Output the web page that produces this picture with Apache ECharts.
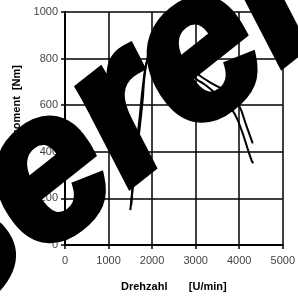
<!DOCTYPE html>
<html>
<head>
<meta charset="utf-8">
<script src="https://cdn.jsdelivr.net/npm/echarts@6/dist/echarts.min.js"></script>
<style>
html,body{margin:0;padding:0;background:#fff;}
#c{width:298px;height:297px;}
</style>
</head>
<body>
<div id="c"></div>
<script>
var xTicks = [0, 1000, 2000, 3000, 4000, 5000];
var yTicks = [0, 200, 400, 600, 800, 1000];
var curveA = [[1500,150],[1600,330],[1700,480],[1780,615],[1830,730],[1900,800],[2000,830],[2400,820],[2800,760],[3000,715],[3200,690],[3400,660],[3600,625],[3820,585],[4000,520],[4290,360],[4330,352]];
var curveB = [[1520,170],[1620,380],[1720,560],[1800,700],[1880,790],[2000,840],[2400,840],[2800,780],[3000,740],[3400,690],[3800,650],[4000,597],[4150,520],[4310,436]];
var xName = 'Drehzahl       [U/min]';
var yName = 'Drehmoment  [Nm]';
var watermark = 'Bereich';

var chart = echarts.init(document.getElementById('c'));
var lbl = {color:'#444', fontFamily:'"Liberation Sans", Arial, sans-serif', fontSize:11, formatter:function(v){return String(v);}};
chart.setOption({
  animation:false,
  grid:{left:65, right:8, top:12, bottom:49, containLabel:false},
  xAxis:{type:'value', min:0, max:5000, interval:1000,
    name:xName, nameLocation:'middle', nameGap:36,
    nameTextStyle:{color:'#000', fontWeight:'bold', fontSize:11, fontFamily:'"Liberation Sans", Arial, sans-serif'},
    axisLine:{show:true, onZero:false, lineStyle:{color:'#000', width:2}},
    axisTick:{show:true, length:4, lineStyle:{color:'#000', width:1.5}},
    axisLabel:Object.assign({margin:10}, lbl),
    splitLine:{show:true, lineStyle:{color:'#000', width:1.5}}},
  yAxis:{type:'value', min:0, max:1000, interval:200,
    axisLine:{show:true, lineStyle:{color:'#000', width:2}},
    axisTick:{show:true, length:4, lineStyle:{color:'#000', width:1.5}},
    axisLabel:Object.assign({margin:7}, lbl),
    splitLine:{show:true, lineStyle:{color:'#000', width:1.5}}},
  series:[
    {type:'line', data:curveA, smooth:true, symbol:'none', lineStyle:{color:'#000', width:2}},
    {type:'line', data:curveB, smooth:true, symbol:'none', lineStyle:{color:'#000', width:2}}
  ],
  graphic:[
    {type:'text', x:17, y:65, rotation:Math.PI/2, style:{text:yName, align:'right', verticalAlign:'middle', fill:'#000', font:'bold 11px "Liberation Sans", Arial, sans-serif'}},
    {type:'text', x:182, y:72, rotation:0.67, z:100, style:{text:watermark, align:'center', verticalAlign:'middle', fill:'#000', stroke:'#000', lineWidth:8, lineJoin:'round', font:'italic bold 205px "Liberation Sans", Arial, sans-serif'}}
  ]
});
</script>
</body>
</html>
